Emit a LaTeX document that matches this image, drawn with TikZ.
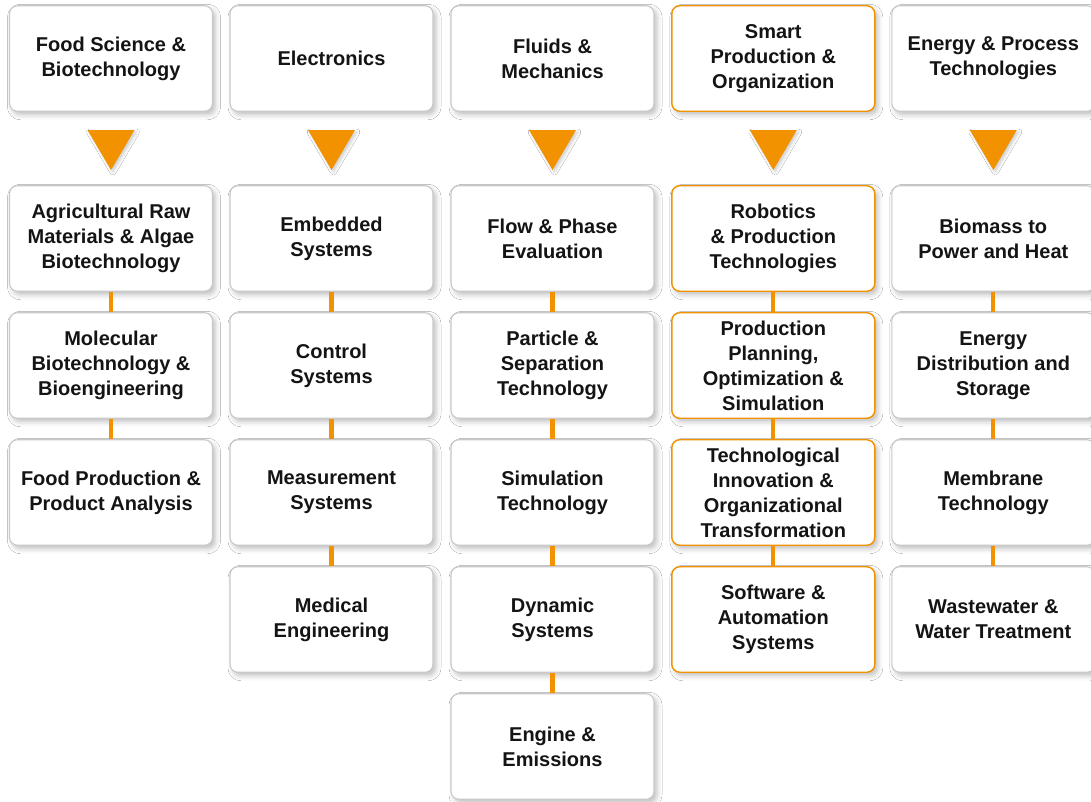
\documentclass[tikz,border=0pt]{standalone}
\usepackage{fontspec}
\setmainfont{Liberation Sans}
\usetikzlibrary{shadows.blur}
\definecolor{org}{HTML}{F39200}
\definecolor{bgray}{HTML}{C9C9C9}
\definecolor{txt}{HTML}{141414}
\tikzset{
  box/.style={draw=bgray, line width=1.1pt, fill=white, rounded corners=8pt,
    minimum width=203pt, minimum height=105.5pt, inner sep=0pt, align=center,
    text=txt, font=\fontsize{20}{25}\selectfont\bfseries,
    blur shadow={shadow xshift=3pt, shadow yshift=-3.5pt, shadow blur radius=5pt, shadow opacity=25}},
  obox/.style={box, draw=org, line width=1.4pt},
  conn/.style={draw=org, line width=4.3pt},
  tri/.style={fill=org, blur shadow={shadow xshift=2pt, shadow yshift=-2pt, shadow blur radius=3pt, shadow opacity=20}}
}
\begin{document}
\begin{tikzpicture}[x=1pt,y=-1pt]
\useasboundingbox[fill=white] (0,0) rectangle (1091,801);
% column x centres
\def\ca{111}\def\cb{331.5}\def\cc{552.5}\def\cd{773.3}\def\ce{993.3}
% header row
\node[box] (h1) at (\ca,58.5) {Food Science \&\\Biotechnology};
\node[box] (h2) at (\cb,58.5) {Electronics};
\node[box] (h3) at (\cc,58.5) {Fluids \&\\Mechanics};
\node[obox] (h4) at (\cd,58.5) {Smart\\Production \&\\Organization};
\node[box] (h5) at (\ce,58.5) {Energy \& Process\\Technologies};
% triangles
\foreach \x in {\ca,\cb,\cc,\cd,\ce}{
  \fill[tri] (\x-23.5,130) -- (\x+23.5,130) -- (\x,170) -- cycle;
}
% column 1
\node[box] (a1) at (\ca,238.5) {Agricultural Raw\\Materials \& Algae\\Biotechnology};
\node[box] (a2) at (\ca,365.5) {Molecular\\Biotechnology \&\\Bioengineering};
\node[box] (a3) at (\ca,492.5) {Food Production \&\\Product Analysis};
% column 2
\node[box] (b1) at (\cb,238.5) {Embedded\\Systems};
\node[box] (b2) at (\cb,365.5) {Control\\Systems};
\node[box] (b3) at (\cb,492.5) {Measurement\\Systems};
\node[box] (b4) at (\cb,619.5) {Medical\\Engineering};
% column 3
\node[box] (c1) at (\cc,238.5) {Flow \& Phase\\Evaluation};
\node[box] (c2) at (\cc,365.5) {Particle \&\\Separation\\Technology};
\node[box] (c3) at (\cc,492.5) {Simulation\\Technology};
\node[box] (c4) at (\cc,619.5) {Dynamic\\Systems};
\node[box] (c5) at (\cc,746.5) {Engine \&\\Emissions};
% column 4
\node[obox] (d1) at (\cd,238.5) {Robotics\\\& Production\\Technologies};
\node[obox] (d2) at (\cd,365.5) {Production\\Planning,\\Optimization \&\\Simulation};
\node[obox] (d3) at (\cd,492.5) {Technological\\Innovation \&\\Organizational\\Transformation};
\node[obox] (d4) at (\cd,619.5) {Software \&\\Automation\\Systems};
% column 5
\node[box] (e1) at (\ce,238.5) {Biomass to\\Power and Heat};
\node[box] (e2) at (\ce,365.5) {Energy\\Distribution and\\Storage};
\node[box] (e3) at (\ce,492.5) {Membrane\\Technology};
\node[box] (e4) at (\ce,619.5) {Wastewater \&\\Water Treatment};
% connectors
\draw[conn] (a1.south) -- (a2.north);
\draw[conn] (a2.south) -- (a3.north);
\draw[conn] (b1.south) -- (b2.north);
\draw[conn] (b2.south) -- (b3.north);
\draw[conn] (b3.south) -- (b4.north);
\draw[conn] (c1.south) -- (c2.north);
\draw[conn] (c2.south) -- (c3.north);
\draw[conn] (c3.south) -- (c4.north);
\draw[conn] (c4.south) -- (c5.north);
\draw[conn] (d1.south) -- (d2.north);
\draw[conn] (d2.south) -- (d3.north);
\draw[conn] (d3.south) -- (d4.north);
\draw[conn] (e1.south) -- (e2.north);
\draw[conn] (e2.south) -- (e3.north);
\draw[conn] (e3.south) -- (e4.north);
\end{tikzpicture}
\end{document}
